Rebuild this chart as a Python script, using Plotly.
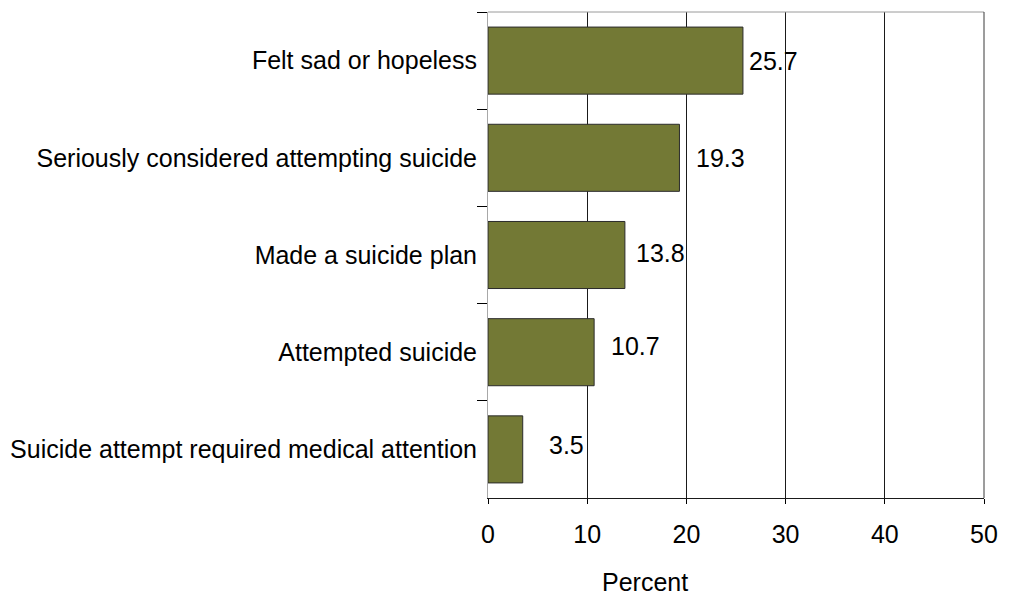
import plotly.graph_objects as go

# Share of students reporting each behaviour (percent)
categories = [
    "Felt sad or hopeless",
    "Seriously considered attempting suicide",
    "Made a suicide plan",
    "Attempted suicide",
    "Suicide attempt required medical attention",
]
percents = [25.7, 19.3, 13.8, 10.7, 3.5]
value_labels = ["25.7", "19.3", "13.8", "10.7", "3.5"]

# label offsets from the bar ends, in pixels
label_xshift = [4, 15, 9, 15, 24]
label_yshift = [0, 0, 2, 6, 4]

x_ticks = [0, 10, 20, 30, 40, 50]

FONT = "Liberation Sans, Arial, sans-serif"
FS = 25
BAR_COLOR = "#737935"

fig = go.Figure(
    go.Bar(
        x=percents,
        y=categories,
        orientation="h",
        width=0.69,
        marker=dict(color=BAR_COLOR, line=dict(color="#2b2b2b", width=1)),
        hoverinfo="x+y",
    )
)

for cat, val, txt, dx, dy in zip(categories, percents, value_labels, label_xshift, label_yshift):
    fig.add_annotation(
        x=val, y=cat, text=txt, showarrow=False,
        xanchor="left", yanchor="middle", xshift=dx, yshift=dy,
        font=dict(family=FONT, size=FS, color="#000000"),
    )

# axis title placed below the tick labels
fig.add_annotation(
    x=0.317, xref="paper", y=-0.173, yref="paper", text="Percent",
    showarrow=False, xanchor="center", yanchor="middle",
    font=dict(family=FONT, size=FS, color="#000000"),
)

# top and right frame lines
fig.add_shape(type="line", xref="paper", yref="paper", x0=0, x1=1, y0=1, y1=1,
              line=dict(color="#9a9a9a", width=1))
fig.add_shape(type="line", xref="paper", yref="paper", x0=1, x1=1, y0=0, y1=1,
              line=dict(color="#3a3a3a", width=1))

fig.update_layout(
    width=1011, height=596,
    margin=dict(l=488, r=27, t=12, b=98, pad=0, autoexpand=False),
    paper_bgcolor="white", plot_bgcolor="white",
    font=dict(family=FONT, size=FS, color="#000000"),
    showlegend=False,
    bargap=0.31,
    xaxis=dict(
        range=[0, 50], tickvals=x_ticks, ticktext=[str(v) for v in x_ticks],
        showgrid=True, gridcolor="#1a1a1a", gridwidth=1,
        zeroline=False,
        showline=True, linecolor="#1a1a1a", linewidth=1,
        ticks="outside", ticklen=5, tickcolor="#000000",
        ticklabelstandoff=9,
        tickfont=dict(family=FONT, size=FS, color="#000000"),
        automargin=False,
        fixedrange=True,
    ),
    yaxis=dict(
        categoryorder="array", categoryarray=categories,
        autorange="reversed",
        showgrid=False, zeroline=False,
        showline=True, linecolor="#a8a8a8", linewidth=1,
        ticks="outside", tickson="boundaries", ticklen=10, tickcolor="#000000",
        ticklabelstandoff=5,
        tickfont=dict(family=FONT, size=FS, color="#000000"),
        automargin=False,
        fixedrange=True,
    ),
)

fig.write_html("out.html")
